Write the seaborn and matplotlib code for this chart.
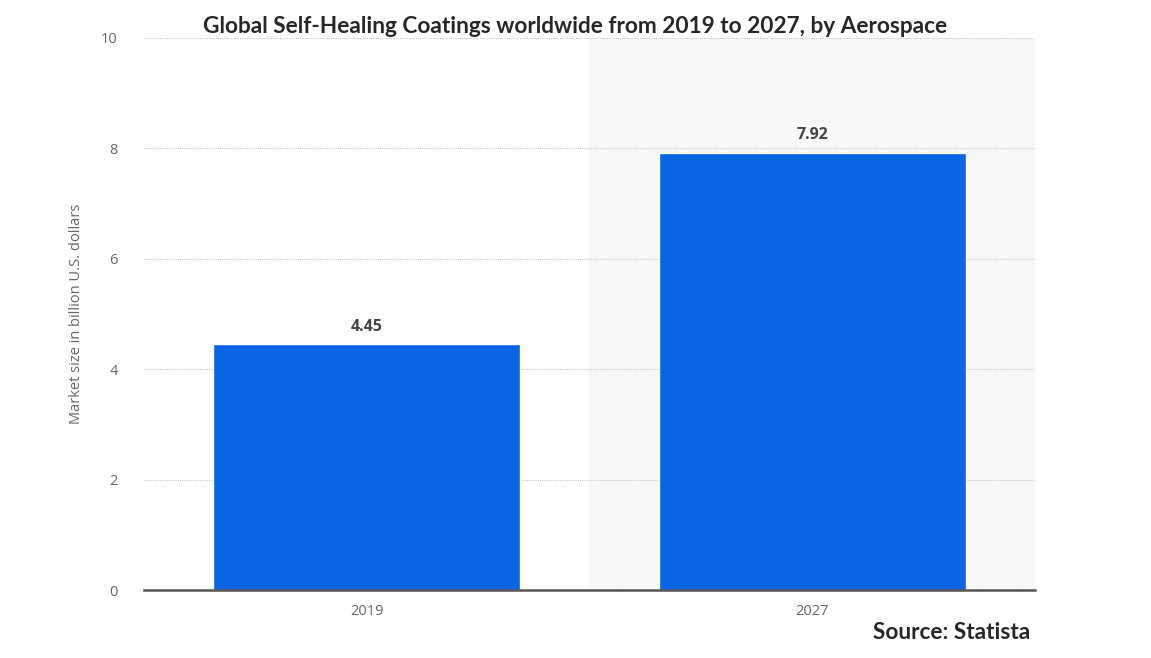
import pandas as pd
import numpy as np
import matplotlib.pyplot as plt
import seaborn as sns

years = ["2019", "2027"]
market_size = [4.45, 7.92]
y_ticks = [0, 2, 4, 6, 8, 10]

df = pd.DataFrame({"year": years, "value": market_size})

sns.set_style("white")
plt.rcParams["font.family"] = ["Open Sans", "DejaVu Sans"]

fig = plt.figure(figsize=(11.51, 6.58), dpi=100)
ax = fig.add_axes([0.1251, 0.1033, 0.7741, 0.839])

# highlighted background behind the forecast year
ax.axvspan(0.5, 1.5, color="#f8f8f8", zorder=0)

sns.barplot(
    data=df,
    x="year",
    y="value",
    color="#0866e5",
    width=0.69,
    saturation=1,
    ax=ax,
    zorder=2,
)

for i, v in enumerate(market_size):
    ax.text(i, v + 0.17, f"{v:.2f}", ha="center", va="bottom",
            fontsize=11.5, fontweight="bold", color="#444444")

ax.set_xlim(-0.5, 1.5)
ax.set_ylim(0, 10)
ax.set_yticks(y_ticks)
ax.yaxis.grid(True, linestyle=(0, (1, 1)), color="#c8c8c8", linewidth=0.8, zorder=1)
ax.set_axisbelow(True)

for side in ["top", "right", "left"]:
    ax.spines[side].set_visible(False)
ax.spines["bottom"].set_color("#555555")
ax.spines["bottom"].set_linewidth(1.8)
ax.spines["bottom"].set_zorder(3)

ax.tick_params(axis="both", length=0, labelsize=10.5, colors="#666666")
ax.tick_params(axis="y", pad=19)
ax.tick_params(axis="x", pad=10)
ax.set_xlabel("")
ax.set_ylabel("Market size in billion U.S. dollars", fontsize=10.5, color="#666666", labelpad=12)

fig.text(0.5, 0.96, "Global Self-Healing Coatings worldwide from 2019 to 2027, by Aerospace",
         ha="center", va="center", fontsize=16.3, fontweight="bold", family=["Lato", "DejaVu Sans"])
fig.text(0.895, 0.038, "Source: Statista", ha="right", va="center",
         fontsize=16.3, fontweight="bold", family=["Lato", "DejaVu Sans"])

plt.savefig("out.png", dpi=100)
plt.close()
